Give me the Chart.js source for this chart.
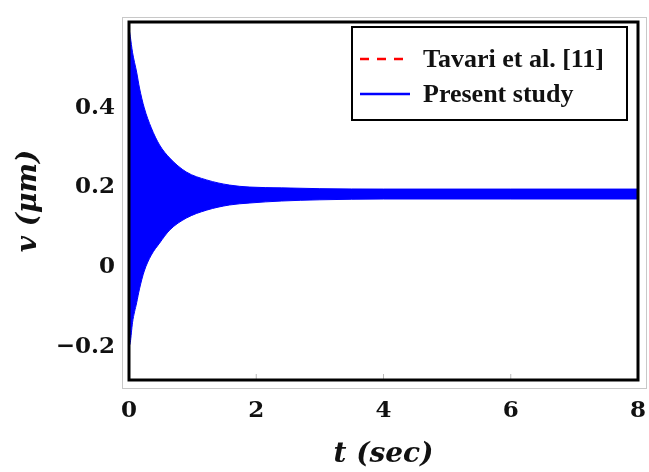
<!DOCTYPE html>
<html>
<head>
<meta charset="utf-8">
<script src="https://cdn.jsdelivr.net/npm/chart.js@4.4.1/dist/chart.umd.min.js"></script>
<style>
  html, body { margin: 0; padding: 0; background: #fff; }
  #wrap { width: 649px; height: 472px; position: relative; }
</style>
</head>
<body>
<div id="wrap"><canvas id="grafico"></canvas></div>
<script>
// Envelope of the fast oscillation
const tempo = [0, 0.02, 0.055, 0.12, 0.165, 0.24, 0.35, 0.48, 0.64, 0.9, 1.22, 1.58, 1.9, 2.4, 3.0, 4.0, 6.0, 8.0];
const vSuperior = [0.60, 0.58, 0.54, 0.49, 0.45, 0.40, 0.35, 0.307, 0.274, 0.239, 0.219, 0.206, 0.201, 0.199, 0.197, 0.196, 0.196, 0.196];
const vInferior = [-0.20, -0.19, -0.14, -0.09, -0.055, -0.01, 0.03, 0.06, 0.093, 0.123, 0.143, 0.156, 0.161, 0.166, 0.169, 0.171, 0.171, 0.171];
const ticksX = [0, 2, 4, 6, 8];
const ticksY = [-0.2, 0, 0.2, 0.4];
const legendas = ['Tavari et al. [11]', 'Present study'];

const pontos = (ys) => tempo.map((t, i) => ({ x: t, y: ys[i] }));

const serif = "'DejaVu Serif', 'Liberation Serif', serif";

// Frame, outer border and legend box
const moldura = {
    id: 'moldura',
    afterDraw(chart) {
        const { ctx, chartArea: a } = chart;
        ctx.save();
        // faint outer frame
        ctx.strokeStyle = '#c8c8c8';
        ctx.lineWidth = 1;
        ctx.strokeRect(122.5, 17.5, 524, 371);
        // small ticks at the bottom
        const sx = chart.scales.x;
        ctx.strokeStyle = '#bbbbbb';
        ticksX.slice(1, -1).forEach(v => {
            const x = sx.getPixelForValue(v);
            ctx.beginPath();
            ctx.moveTo(x, a.bottom - 6);
            ctx.lineTo(x, a.bottom - 1);
            ctx.stroke();
        });
        // black box around the plot
        ctx.strokeStyle = '#000';
        ctx.lineWidth = 3;
        ctx.strokeRect(a.left, a.top, a.right - a.left, a.bottom - a.top);

        // legend
        const lx = 352, ly = 27, lw = 275, lh = 93;
        ctx.fillStyle = '#fff';
        ctx.fillRect(lx, ly, lw, lh);
        ctx.lineWidth = 2;
        ctx.strokeRect(lx, ly, lw, lh);
        const linhas = [
            { y: 59, cor: '#ff0000', dash: [9, 8] },
            { y: 94, cor: '#0000ff', dash: [] }
        ];
        ctx.font = "bold 26px 'Liberation Serif', serif";
        ctx.textBaseline = 'middle';
        linhas.forEach((l, i) => {
            ctx.strokeStyle = l.cor;
            ctx.lineWidth = 2.5;
            ctx.setLineDash(l.dash);
            ctx.beginPath();
            ctx.moveTo(360, l.y);
            ctx.lineTo(410, l.y);
            ctx.stroke();
            ctx.setLineDash([]);
            ctx.fillStyle = '#111';
            ctx.fillText(legendas[i], 423, l.y + 1);
        });
        ctx.restore();
    }
};

const ctx = document.getElementById('grafico').getContext('2d');

new Chart(ctx, {
    type: 'line',
    data: {
        datasets: [
            {
                label: legendas[0],
                data: [],
                borderColor: '#ff0000',
                borderDash: [9, 8],
                pointRadius: 0
            },
            {
                label: 'upper',
                data: pontos(vSuperior),
                borderColor: '#0000ff',
                borderWidth: 1,
                pointRadius: 0,
                cubicInterpolationMode: 'monotone',
                fill: false
            },
            {
                label: legendas[1],
                data: pontos(vInferior),
                borderColor: '#0000ff',
                backgroundColor: '#0000ff',
                borderWidth: 1,
                pointRadius: 0,
                cubicInterpolationMode: 'monotone',
                fill: '-1'
            }
        ]
    },
    options: {
        responsive: true,
        maintainAspectRatio: false,
        animation: false,
        layout: { padding: { left: 0, right: 11, top: 22, bottom: 0 } },
        plugins: {
            legend: { display: false },
            tooltip: { enabled: false }
        },
        scales: {
            x: {
                type: 'linear',
                min: 0,
                max: 8,
                afterFit(scale) {
                    scale.height = 92;
                    scale.paddingLeft = 0;
                    scale.paddingRight = 0;
                },
                afterBuildTicks(scale) { scale.ticks = ticksX.map(v => ({ value: v })); },
                grid: { display: false, drawTicks: false },
                border: { display: false },
                ticks: {
                    padding: 17,
                    color: '#111',
                    font: { family: serif, size: 23, weight: 'bold' }
                },
                title: {
                    display: true,
                    text: 't (sec)',
                    color: '#111',
                    padding: { top: 4, bottom: 0 },
                    font: { family: serif, size: 28, weight: 'bold', style: 'italic' }
                }
            },
            y: {
                min: -0.284,
                max: 0.616,
                afterFit(scale) {
                    scale.width = 129;
                    scale.paddingTop = 0;
                    scale.paddingBottom = 0;
                },
                afterBuildTicks(scale) { scale.ticks = ticksY.map(v => ({ value: v })); },
                grid: { display: false, drawTicks: false },
                border: { display: false },
                ticks: {
                    padding: 14,
                    color: '#111',
                    font: { family: serif, size: 23, weight: 'bold' },
                    callback: (v) => v < 0 ? '\u2212' + Math.abs(v) : String(v)
                },
                title: {
                    display: true,
                    text: 'v (\u03bcm)',
                    color: '#111',
                    padding: { top: 12, bottom: 0 },
                    font: { family: serif, size: 28, weight: 'bold', style: 'italic' }
                }
            }
        }
    },
    plugins: [moldura]
});
</script>
</body>
</html>
